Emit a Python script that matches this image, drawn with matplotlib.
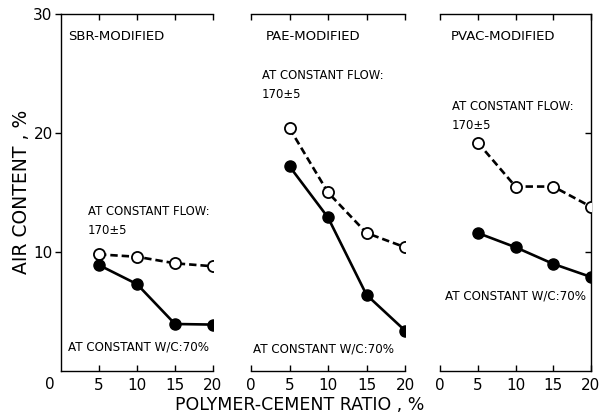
import matplotlib
matplotlib.use("Agg")
import matplotlib.pyplot as plt

ratios = [5, 10, 15, 20]
panel_titles = ["SBR-MODIFIED", "PAE-MODIFIED", "PVAC-MODIFIED"]
flow_air = [
    [9.8, 9.6, 9.05, 8.8],
    [20.4, 15.0, 11.6, 10.4],
    [19.2, 15.5, 15.5, 13.8],
]
wc_air = [
    [8.9, 7.3, 3.95, 3.9],
    [17.2, 12.9, 6.4, 3.4],
    [11.6, 10.4, 9.0, 7.9],
]
flow_label = "AT CONSTANT FLOW:"
flow_sub = "170±5"
wc_label = "AT CONSTANT W/C:70%"
x_ticks = [0, 5, 10, 15, 20]
y_ticks = [10, 20, 30]

plt.rcParams['font.family'] = ['DejaVu Sans']
W, H = 601, 419
fig = plt.figure(figsize=(W / 100, H / 100), dpi=100)

lefts = [61, 251, 440]
rights = [213, 405, 591]
top_px, bot_px = 14, 371

# text layout (data coords per panel)
title_pos = [(0.9, 28.1), (1.9, 28.1), (1.4, 28.1)]
flow_pos = [(3.55, 13.4), (1.4, 24.8), (1.55, 22.2)]
wc_pos = [(0.9, 2.0), (0.25, 1.85), (0.6, 6.3)]

axes = []
for i in range(3):
    ax = fig.add_axes([lefts[i] / W, 1 - bot_px / H,
                       (rights[i] - lefts[i]) / W, (bot_px - top_px) / H])
    axes.append(ax)
    ax.set_xlim(0, 20)
    ax.set_ylim(0, 30)
    ax.plot(ratios, flow_air[i], color='black', lw=1.9, linestyle=(0, (2.8, 1.5)),
            marker='o', markersize=8, markerfacecolor='white',
            markeredgecolor='black', markeredgewidth=1.3, zorder=3)
    ax.plot(ratios, wc_air[i], color='black', lw=1.9, linestyle='-',
            marker='o', markersize=8, markerfacecolor='black',
            markeredgecolor='black', zorder=3)
    for s in ax.spines.values():
        s.set_linewidth(1.0)
    ax.spines['left'].set_visible(i == 0)
    ax.spines['right'].set_visible(i == 2)
    ax.tick_params(axis='x', direction='in', top=True, bottom=True,
                   length=4, width=1.0, labelsize=11, pad=5)
    if i == 0:
        ax.set_xticks(x_ticks[1:])
        ax.set_yticks(y_ticks)
        ax.tick_params(axis='y', direction='out', left=True, right=False,
                       length=4, width=1.0, labelsize=11, pad=2)
        ax.text(-1.5, -0.5, "0", fontsize=11, ha='center', va='top',
                transform=ax.transData)
    elif i == 1:
        ax.set_xticks(x_ticks)
        ax.set_yticks([])
    else:
        ax.set_xticks(x_ticks)
        ax.set_yticks(y_ticks[:2])
        ax.tick_params(axis='y', direction='in', left=False, right=True,
                       labelleft=False, labelright=False, length=4, width=1.0)
    ax.set_xticklabels([str(v) for v in ax.get_xticks()])
    ax.text(title_pos[i][0], title_pos[i][1], panel_titles[i], fontsize=9.5,
            ha='left', va='center')
    ax.text(flow_pos[i][0], flow_pos[i][1], flow_label, fontsize=8.4,
            ha='left', va='center')
    ax.text(flow_pos[i][0], flow_pos[i][1] - 1.6, flow_sub, fontsize=8.4,
            ha='left', va='center')
    ax.text(wc_pos[i][0], wc_pos[i][1], wc_label, fontsize=8.6,
            ha='left', va='center')
    ax.patch.set_alpha(0)

fig.text(22 / W, 1 - 192 / H, "AIR CONTENT , %", rotation=90, fontsize=13.5,
         ha='center', va='center')
fig.text(300 / W, 1 - 405 / H, "POLYMER-CEMENT RATIO , %", fontsize=12.5,
         ha='center', va='center')

fig.savefig("out.png", dpi=100)
